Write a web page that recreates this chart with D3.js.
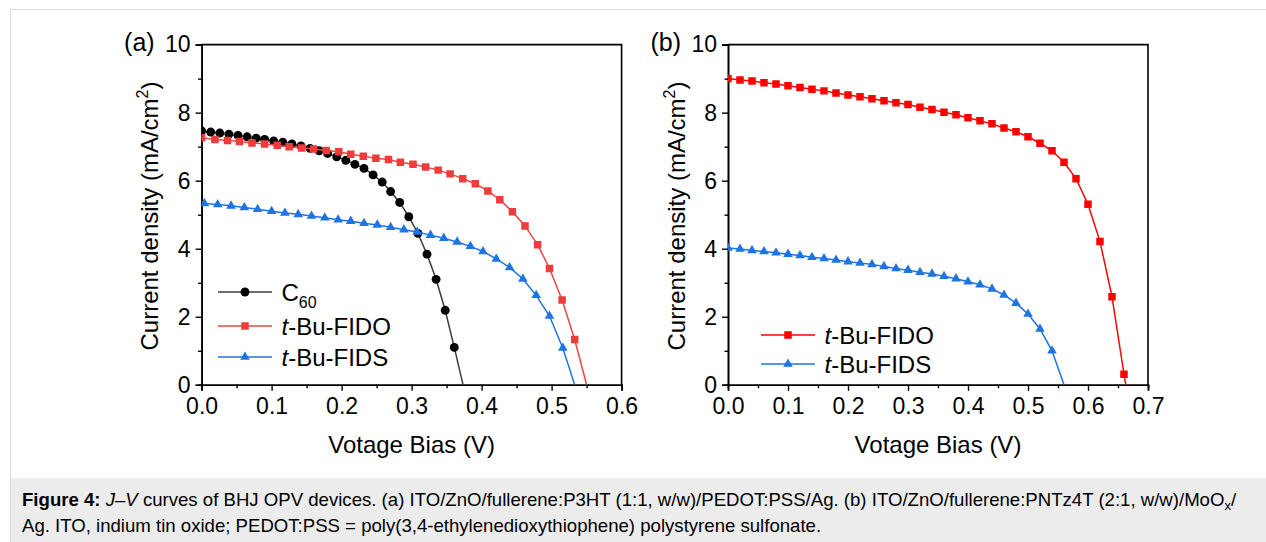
<!DOCTYPE html>
<html>
<head>
<meta charset="utf-8">
<script src="https://cdn.jsdelivr.net/npm/d3@7"></script>
<style>
  body { margin: 0; background: #fff; }
  svg { display: block; }
  text { font-family: "Liberation Sans", Arial, Helvetica, sans-serif; fill: #000; }
</style>
</head>
<body>
<svg id="fig" width="1266" height="542"></svg>
<script>
// ---- Panel (a): ITO/ZnO/fullerene:P3HT devices ----
const voltsA_C60 = [0.000, 0.013, 0.026, 0.039, 0.052, 0.065, 0.078, 0.090, 0.103, 0.116,
                    0.129, 0.142, 0.155, 0.168, 0.180, 0.193, 0.206, 0.219, 0.232, 0.245,
                    0.258, 0.270, 0.283, 0.296, 0.309, 0.322, 0.335, 0.348, 0.361];
const currA_C60  = [7.46, 7.43, 7.40, 7.37, 7.33, 7.29, 7.25, 7.21, 7.17, 7.13,
                    7.08, 7.02, 6.95, 6.88, 6.80, 6.70, 6.60, 6.48, 6.36, 6.17,
                    5.96, 5.68, 5.36, 4.94, 4.45, 3.84, 3.10, 2.19, 1.10];
const vocA_C60 = 0.3735;

const voltsA_FIDO = [0.000, 0.019, 0.037, 0.054, 0.072, 0.090, 0.108, 0.125, 0.143, 0.160,
                     0.178, 0.196, 0.213, 0.231, 0.249, 0.267, 0.284, 0.302, 0.320, 0.338,
                     0.355, 0.373, 0.391, 0.409, 0.426, 0.444, 0.462, 0.480, 0.497, 0.515, 0.533];
const currA_FIDO  = [7.26, 7.21, 7.18, 7.15, 7.11, 7.08, 7.04, 7.00, 6.96, 6.93,
                     6.89, 6.85, 6.78, 6.72, 6.66, 6.62, 6.54, 6.48, 6.40, 6.31,
                     6.20, 6.06, 5.91, 5.70, 5.44, 5.09, 4.67, 4.12, 3.42, 2.49, 1.33];
const vocA_FIDO = 0.550;

const voltsA_FIDS = [0.004, 0.023, 0.042, 0.061, 0.080, 0.100, 0.119, 0.138, 0.157, 0.176,
                     0.195, 0.213, 0.232, 0.251, 0.270, 0.289, 0.308, 0.327, 0.346, 0.365,
                     0.384, 0.402, 0.421, 0.440, 0.459, 0.478, 0.497, 0.516];
const currA_FIDS  = [5.33, 5.30, 5.26, 5.21, 5.16, 5.10, 5.05, 5.01, 4.96, 4.91,
                     4.85, 4.81, 4.75, 4.70, 4.63, 4.56, 4.49, 4.40, 4.31, 4.20,
                     4.07, 3.92, 3.70, 3.45, 3.11, 2.63, 2.02, 1.08];
const vocA_FIDS = 0.533;

// ---- Panel (b): ITO/ZnO/fullerene:PNTz4T devices ----
const voltsB_FIDO = [0.00, 0.02, 0.04, 0.06, 0.08, 0.10, 0.12, 0.14, 0.16, 0.18,
                     0.20, 0.22, 0.24, 0.26, 0.28, 0.30, 0.32, 0.34, 0.36, 0.38,
                     0.40, 0.42, 0.44, 0.46, 0.48, 0.50, 0.52, 0.54, 0.56, 0.58,
                     0.60, 0.62, 0.64, 0.66];
const currB_FIDO  = [9.00, 8.96, 8.93, 8.88, 8.84, 8.79, 8.74, 8.69, 8.64, 8.58,
                     8.52, 8.47, 8.41, 8.35, 8.29, 8.24, 8.16, 8.09, 8.01, 7.94,
                     7.85, 7.76, 7.67, 7.55, 7.44, 7.29, 7.10, 6.88, 6.54, 6.06,
                     5.31, 4.21, 2.59, 0.31];
const vocB_FIDO = 0.663;

const voltsB_FIDS = [0.00, 0.02, 0.04, 0.06, 0.08, 0.10, 0.12, 0.14, 0.16, 0.18,
                     0.20, 0.22, 0.24, 0.26, 0.28, 0.30, 0.32, 0.34, 0.36, 0.38,
                     0.40, 0.42, 0.44, 0.46, 0.48, 0.50, 0.52, 0.54];
const currB_FIDS  = [4.02, 3.99, 3.95, 3.92, 3.88, 3.84, 3.80, 3.75, 3.71, 3.67,
                     3.62, 3.58, 3.54, 3.48, 3.42, 3.37, 3.31, 3.26, 3.19, 3.12,
                     3.03, 2.94, 2.82, 2.64, 2.40, 2.08, 1.64, 1.00];
const vocB_FIDS = 0.56;

// Axis ticks
const xTicksA = [0.0, 0.1, 0.2, 0.3, 0.4, 0.5, 0.6];
const xTicksB = [0.0, 0.1, 0.2, 0.3, 0.4, 0.5, 0.6, 0.7];
const yTicks  = [0, 2, 4, 6, 8, 10];
const xMinor  = [0.05, 0.15, 0.25, 0.35, 0.45, 0.55, 0.65];
const yMinor  = [1, 3, 5, 7, 9];

const FONT = '"Liberation Sans", Arial, Helvetica, sans-serif';
const svg = d3.select("#fig");

// page frame and caption band
svg.append("rect").attr("x", 10.5).attr("y", 9.5).attr("width", 1300).attr("height", 600)
  .attr("fill", "#fff").attr("stroke", "#dcdcdc").attr("stroke-width", 1);
svg.append("rect").attr("x", 11).attr("y", 478).attr("width", 1260).attr("height", 70)
  .attr("fill", "#ececec");

function drawPanel(opt) {
  const x = d3.scaleLinear().domain(opt.xDomain).range(opt.xRange);
  const y = d3.scaleLinear().domain([0, 10]).range([384.8, 44.6]);
  const g = svg.append("g");

  const clipId = "clip-" + opt.id;
  svg.append("defs").append("clipPath").attr("id", clipId)
    .append("rect").attr("x", opt.xRange[0]).attr("y", 44.6)
    .attr("width", opt.xRange[1] - opt.xRange[0]).attr("height", 340.2);

  // minor ticks
  const minorX = d3.axisBottom(x).tickValues(xMinor.filter(v => v < opt.xDomain[1]))
    .tickSize(3.5).tickFormat("");
  const minorY = d3.axisLeft(y).tickValues(yMinor).tickSize(3.5).tickFormat("");
  g.append("g").attr("transform", `translate(0,${y(0)})`).call(minorX);
  g.append("g").attr("transform", `translate(${x(0)},0)`).call(minorY);

  // major axes
  const ax = d3.axisBottom(x).tickValues(opt.xTicks).tickSize(6).tickPadding(7)
    .tickFormat(d3.format(".1f"));
  const ay = d3.axisLeft(y).tickValues(yTicks).tickSize(6).tickPadding(5)
    .tickFormat(d3.format("d"));
  g.append("g").attr("transform", `translate(0,${y(0)})`).call(ax);
  g.append("g").attr("transform", `translate(${x(0)},0)`).call(ay);

  g.selectAll(".domain").attr("stroke", "#000").attr("stroke-width", 1.6);
  g.selectAll(".tick line").attr("stroke", "#000").attr("stroke-width", 1.4);
  g.selectAll(".tick text").attr("font-family", FONT).attr("font-size", 23).attr("fill", "#000");

  // box (top and right sides)
  g.append("path")
    .attr("d", `M${x.range()[0]},${y(10)}H${x.range()[1]}V${y(0)}`)
    .attr("fill", "none").attr("stroke", "#000").attr("stroke-width", 1.6);

  // series
  const plot = svg.append("g").attr("clip-path", `url(#${clipId})`);
  const line = d3.line().x(d => x(d[0])).y(d => y(d[1]));
  opt.series.forEach(s => {
    const pts = s.v.map((v, i) => [v, s.j[i]]);
    plot.append("path").datum(pts.concat([[s.voc, 0]]))
      .attr("d", line).attr("fill", "none")
      .attr("stroke", s.lineColor).attr("stroke-width", 1.5);
    plot.selectAll(null).data(pts).join("path")
      .attr("transform", d => `translate(${x(d[0])},${y(d[1])})`)
      .attr("d", d3.symbol().type(s.symbol).size(s.size)())
      .attr("fill", s.color);
  });

  // axis titles
  svg.append("text").attr("x", (opt.xRange[0] + opt.xRange[1]) / 2).attr("y", 453)
    .attr("text-anchor", "middle").attr("font-size", 24).text("Votage Bias (V)");
  const yt = svg.append("text")
    .attr("transform", `translate(${opt.xRange[0] - 43.5},216) rotate(-90)`)
    .attr("text-anchor", "middle").attr("font-size", 24);
  yt.append("tspan").text("Current density (mA/cm");
  yt.append("tspan").attr("font-size", 16).attr("dy", -10).text("2");
  yt.append("tspan").attr("dy", 10).text(")");

  // panel letter
  svg.append("text").attr("x", opt.xRange[0] - 77.5).attr("y", 50.5)
    .attr("font-size", 25).text(opt.label);

  // legend
  opt.series.forEach((s, i) => {
    const ly = opt.legendY[i];
    const lx = opt.legendX;
    svg.append("line").attr("x1", lx).attr("x2", lx + 54).attr("y1", ly).attr("y2", ly)
      .attr("stroke", s.lineColor).attr("stroke-width", 1.5);
    svg.append("path").attr("transform", `translate(${lx + 27},${ly})`)
      .attr("d", d3.symbol().type(s.symbol).size(s.size)()).attr("fill", s.color);
    const t = svg.append("text").attr("x", lx + 63.5).attr("y", ly + 8.5).attr("font-size", 24);
    s.name(t);
  });
}

const nameC60 = t => {
  t.append("tspan").text("C");
  t.append("tspan").attr("font-size", 16).attr("dy", 7).text("60");
};
const nameFIDO = t => {
  t.append("tspan").attr("font-style", "italic").text("t");
  t.append("tspan").text("-Bu-FIDO");
};
const nameFIDS = t => {
  t.append("tspan").attr("font-style", "italic").text("t");
  t.append("tspan").text("-Bu-FIDS");
};

const BLUE = "#1f74e3";

drawPanel({
  id: "a", label: "(a)",
  xDomain: [0, 0.6], xRange: [201.6, 621.6], xTicks: xTicksA,
  legendX: 218, legendY: [292, 326, 357],
  series: [
    { v: voltsA_C60, j: currA_C60, voc: vocA_C60, color: "#000", lineColor: "#3c3c3c",
      symbol: d3.symbolCircle, size: 62, name: nameC60 },
    { v: voltsA_FIDO, j: currA_FIDO, voc: vocA_FIDO, color: "#ef3b3b", lineColor: "#f04545",
      symbol: d3.symbolSquare, size: 56, name: nameFIDO },
    { v: voltsA_FIDS, j: currA_FIDS, voc: vocA_FIDS, color: BLUE, lineColor: BLUE,
      symbol: d3.symbolTriangle, size: 40, name: nameFIDS }
  ]
});

drawPanel({
  id: "b", label: "(b)",
  xDomain: [0, 0.7], xRange: [728, 1148], xTicks: xTicksB,
  legendX: 761, legendY: [335, 364],
  series: [
    { v: voltsB_FIDO, j: currB_FIDO, voc: vocB_FIDO, color: "#ff0000", lineColor: "#ff0000",
      symbol: d3.symbolSquare, size: 56, name: nameFIDO },
    { v: voltsB_FIDS, j: currB_FIDS, voc: vocB_FIDS, color: BLUE, lineColor: BLUE,
      symbol: d3.symbolTriangle, size: 40, name: nameFIDS }
  ]
});

// caption
const CAP = 18.6;
const cap1 = svg.append("text").attr("x", 22).attr("y", 506).attr("font-size", CAP).attr("fill", "#222");
cap1.append("tspan").attr("font-weight", "bold").text("Figure 4:");
cap1.append("tspan").text(" ");
cap1.append("tspan").attr("font-style", "italic").text("J");
cap1.append("tspan").text("–");
cap1.append("tspan").attr("font-style", "italic").text("V");
cap1.append("tspan").text(" curves of BHJ OPV devices. (a) ITO/ZnO/fullerene:P3HT (1:1, w/w)/PEDOT:PSS/Ag. (b) ITO/ZnO/fullerene:PNTz4T (2:1, w/w)/MoO");
cap1.append("tspan").attr("font-size", 13).attr("dy", 4).text("x");
cap1.append("tspan").attr("dy", -4).text("/");
svg.append("text").attr("x", 22).attr("y", 532).attr("font-size", CAP).attr("fill", "#222")
  .text("Ag. ITO, indium tin oxide; PEDOT:PSS = poly(3,4-ethylenedioxythiophene) polystyrene sulfonate.");
</script>
</body>
</html>
